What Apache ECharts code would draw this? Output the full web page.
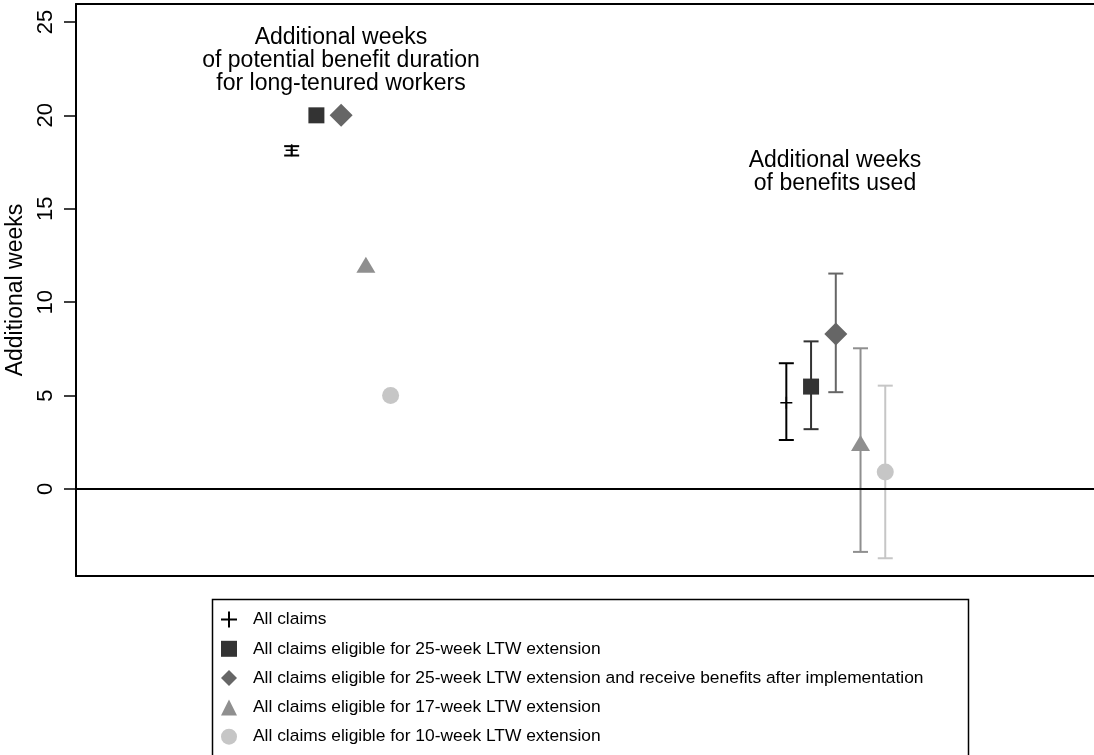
<!DOCTYPE html>
<html><head><meta charset="utf-8">
<script src="https://cdn.jsdelivr.net/npm/echarts@6/dist/echarts.min.js"></script>
<style>html,body{margin:0;padding:0;background:#fff;overflow:hidden}#c{width:1094px;height:755px}</style>
</head><body><div id="c"></div>
<script>
// ---- data ----
const seriesNames = [
  "All claims",
  "All claims eligible for 25-week LTW extension",
  "All claims eligible for 25-week LTW extension and receive benefits after implementation",
  "All claims eligible for 17-week LTW extension",
  "All claims eligible for 10-week LTW extension"
];
const groupLabels = [
  "Additional weeks\nof potential benefit duration\nfor long-tenured workers",
  "Additional weeks\nof benefits used"
];
// group 1: additional weeks of potential benefit duration
const potentialWeeks = [18.13, 20, 20, 12, 5];
const potentialLow  = [17.85, null, null, null, null];
const potentialHigh = [18.35, null, null, null, null];
// group 2: additional weeks of benefits used
const usedWeeks = [4.62, 5.48, 8.30, 2.46, 0.91];
const usedLow   = [2.62, 3.20, 5.18, -3.37, -3.71];
const usedHigh  = [6.73, 7.90, 11.53, 7.53, 5.53];
const yTicks = [0, 5, 10, 15, 20, 25];

// ---- style ----
const colors = ["#000000", "#333333", "#666666", "#8f8f8f", "#c6c6c6"];
const plusPath = "path://M0,7L16,7L16,9L0,9Z M7,0L9,0L9,16L7,16Z";
const symbols = [plusPath, "rect", "diamond", "triangle", "circle"];
const symbolSizes = [[12, 12], [16, 16], [23, 23], [19, 16], [17, 17]];
const legendIcons = [plusPath, "rect", "diamond", "triangle", "circle"];
const offsets = [-0.1, -0.05, 0, 0.05, 0.1];
const groupX = [1, 2];
const FONT = "Liberation Sans, Arial, sans-serif";

const series = [];
seriesNames.forEach((name, i) => {
  const pts = [[groupX[0] + offsets[i], potentialWeeks[i]], [groupX[1] + offsets[i], usedWeeks[i]]];
  const bars = [];
  if (potentialLow[i] != null) bars.push([groupX[0] + offsets[i], potentialLow[i], potentialHigh[i]]);
  bars.push([groupX[1] + offsets[i], usedLow[i], usedHigh[i]]);
  const col = colors[i];
  series.push({
    name: name + " CI",
    type: "custom",
    silent: true,
    z: 2,
    data: bars,
    renderItem: (params, api) => {
      const x = api.value(0), lo = api.value(1), hi = api.value(2);
      const a = api.coord([x, lo]), b = api.coord([x, hi]);
      const w = 7.5;
      const st = { stroke: col, lineWidth: 2, fill: null };
      return { type: "group", children: [
        { type: "line", shape: { x1: a[0], y1: a[1], x2: b[0], y2: b[1] }, style: st },
        { type: "line", shape: { x1: a[0] - w, y1: a[1], x2: a[0] + w, y2: a[1] }, style: st },
        { type: "line", shape: { x1: b[0] - w, y1: b[1], x2: b[0] + w, y2: b[1] }, style: st }
      ]};
    }
  });
  const s = {
    name: name,
    type: "scatter",
    z: 3,
    symbol: symbols[i],
    symbolSize: symbolSizes[i],
    itemStyle: { color: col, opacity: 1 },
    data: pts
  };
  if (i === 0) {
    s.markLine = {
      silent: true, symbol: "none", label: { show: false },
      lineStyle: { color: "#000", width: 2, type: "solid" },
      data: [{ yAxis: 0 }]
    };
  }
  series.push(s);
});

const chart = echarts.init(document.getElementById("c"), null, { renderer: "canvas" });
const hiddenX = {
  type: "value", min: 0.464, max: 2.522,
  axisLine: { show: true, onZero: false, lineStyle: { color: "#000", width: 2 } },
  axisTick: { show: false }, axisLabel: { show: false }, splitLine: { show: false }
};
chart.setOption({
  animation: false,
  backgroundColor: "#fff",
  grid: { left: 76, right: 0, top: 4, bottom: 179, show: false, containLabel: false, outerBoundsMode: "none" },
  xAxis: [
    Object.assign({ position: "bottom" }, hiddenX),
    Object.assign({ position: "top" }, hiddenX)
  ],
  yAxis: {
    type: "value", min: -4.66, max: 25.96,
    name: "Additional weeks", nameLocation: "middle", nameGap: 39, nameRotate: 90,
    nameTextStyle: { fontFamily: FONT, fontSize: 23, color: "#000" },
    axisLine: { show: true, onZero: false, lineStyle: { color: "#000", width: 2 } },
    axisTick: { show: true, length: 12, lineStyle: { color: "#000", width: 1.5 }, customValues: yTicks },
    axisLabel: { rotate: 90, margin: 19, fontFamily: FONT, fontSize: 22, color: "#000", customValues: yTicks },
    splitLine: { show: false }
  },
  legend: {
    orient: "vertical", left: 216, top: 606, itemGap: 12.3, itemWidth: 16, itemHeight: 16,
    textStyle: { fontFamily: FONT, fontSize: 17.4, color: "#000", padding: [0, 0, 0, 11] },
    selectedMode: false,
    data: seriesNames.map((n, i) => ({ name: n, icon: legendIcons[i] }))
  },
  graphic: [
    { type: "rect", left: 210, top: 597, shape: { width: 756, height: 170 }, style: { fill: null, stroke: "#000", lineWidth: 1.5 }, silent: true, z: 0 },
    { type: "text", x: 341, y: 26, style: { text: groupLabels[0], fontFamily: FONT, fontSize: 23, lineHeight: 23, fill: "#000", align: "center", verticalAlign: "top" }, silent: true },
    { type: "text", x: 835, y: 149, style: { text: groupLabels[1], fontFamily: FONT, fontSize: 23, lineHeight: 23, fill: "#000", align: "center", verticalAlign: "top" }, silent: true }
  ],
  series: series
});
</script></body></html>
